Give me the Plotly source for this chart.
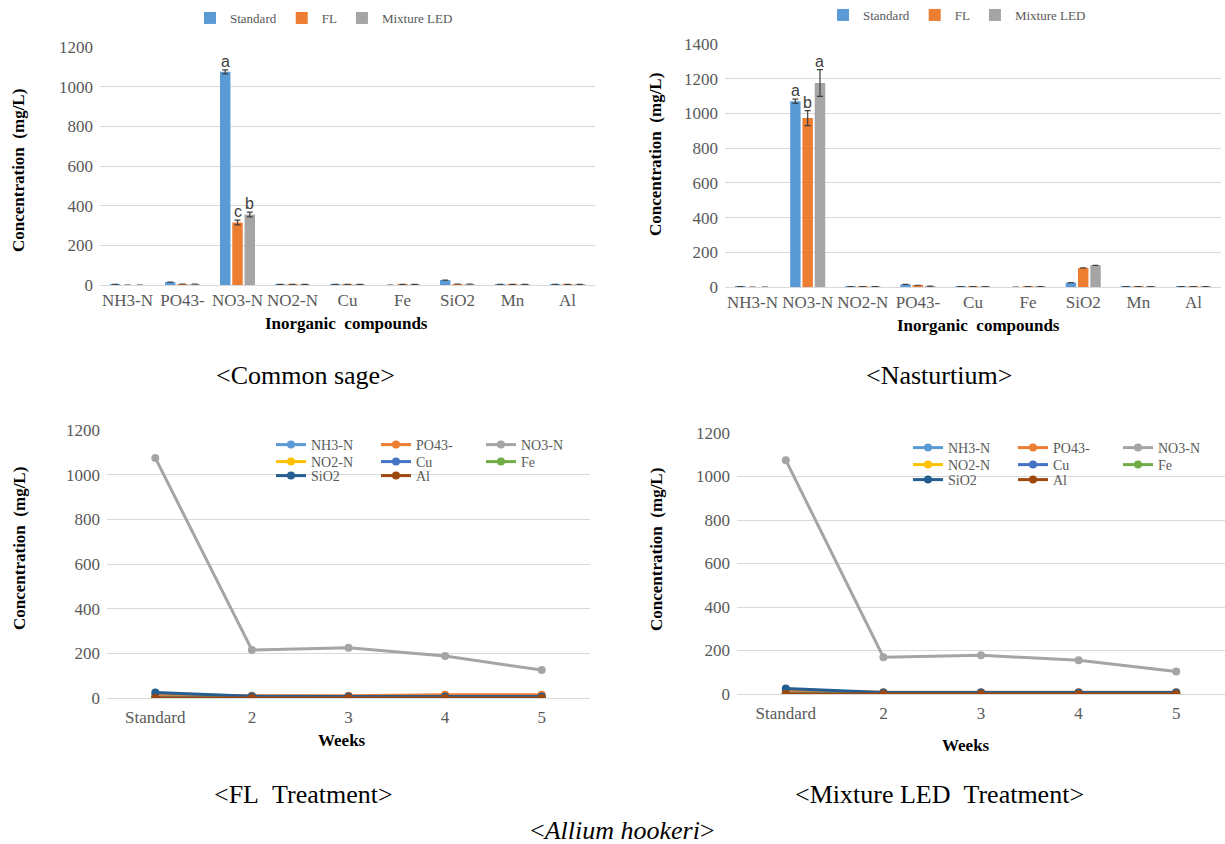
import plotly.graph_objects as go

# ---------------- data ----------------
sage_cats = ["NH3-N", "PO43-", "NO3-N", "NO2-N", "Cu", "Fe", "SiO2", "Mn", "Al"]
sage_standard = [3, 15, 1075, 3, 3, 0, 25, 3, 3]
sage_fl = [0, 5, 315, 3, 3, 3, 5, 3, 3]
sage_led = [0, 5, 355, 3, 3, 3, 5, 3, 3]
sage_err_standard = [0, 0, 10, 0, 0, 0, 0, 0, 0]
sage_err_fl = [0, 0, 12, 0, 0, 0, 0, 0, 0]
sage_err_led = [0, 0, 12, 0, 0, 0, 0, 0, 0]
sage_letters = ["a", "c", "b"]

nast_cats = ["NH3-N", "NO3-N", "NO2-N", "PO43-", "Cu", "Fe", "SiO2", "Mn", "Al"]
nast_standard = [3, 1070, 3, 15, 3, 0, 25, 3, 3]
nast_fl = [0, 973, 3, 10, 3, 3, 110, 3, 3]
nast_led = [0, 1175, 3, 5, 3, 3, 125, 3, 3]
nast_err_standard = [0, 12, 0, 0, 0, 0, 0, 0, 0]
nast_err_fl = [0, 43, 0, 0, 0, 0, 0, 0, 0]
nast_err_led = [0, 77, 0, 0, 0, 0, 0, 0, 0]
nast_letters = ["a", "b", "a"]

weeks = ["Standard", "2", "3", "4", "5"]
fl_series = {
    "NH3-N": [3, 2, 2, 2, 2],
    "PO43-": [15, 10, 10, 15, 15],
    "NO3-N": [1075, 215, 225, 188, 125],
    "NO2-N": [3, 2, 2, 2, 2],
    "Cu": [3, 3, 3, 3, 3],
    "Fe": [0, 3, 3, 3, 3],
    "SiO2": [25, 8, 7, 7, 7],
    "Al": [0, 0, 0, 0, 0],
}
fl_no3_err = [6, 8, 4, 8, 4]
led_series = {
    "NH3-N": [3, 2, 2, 2, 2],
    "PO43-": [15, 8, 8, 8, 8],
    "NO3-N": [1075, 169, 178, 155, 103],
    "NO2-N": [3, 2, 2, 2, 2],
    "Cu": [3, 3, 3, 3, 3],
    "Fe": [0, 3, 3, 3, 3],
    "SiO2": [25, 7, 7, 7, 7],
    "Al": [0, 0, 0, 0, 0],
}

bar_names = ["Standard", "FL", "Mixture LED"]
bar_colors = ["#5B9BD5", "#ED7D31", "#A5A5A5"]
line_colors = {
    "NH3-N": "#5B9BD5", "PO43-": "#ED7D31", "NO3-N": "#A5A5A5", "NO2-N": "#FFC000",
    "Cu": "#4472C4", "Fe": "#70AD47", "SiO2": "#255E91", "Al": "#9E480E",
}

# ---------------- helpers ----------------
W, H = 1225, 844
def px(x):
    return x / W
def py(y):
    return 1 - y / H

SERIF = "Liberation Serif"
TICK_FONT = dict(family=SERIF, size=17, color="#595959")
GRID = "#D9D9D9"

fig = go.Figure()

BARGAP = 0.33
SLOT = (1 - BARGAP) / 3

# ---------------- bar charts ----------------
def add_bars(xa, ya, cats, vals, errs, legend):
    for name, col, v, e in zip(bar_names, bar_colors, vals, errs):
        fig.add_trace(go.Bar(
            x=cats, y=v, name=name, marker=dict(color=col, line=dict(width=0)),
            error_y=dict(type="data", array=e, visible=True, color="#404040",
                         thickness=1.2, width=3),
            xaxis=xa, yaxis=ya, legend=legend, showlegend=True,
        ))

add_bars("x", "y", sage_cats, [sage_standard, sage_fl, sage_led],
         [sage_err_standard, sage_err_fl, sage_err_led], "legend")
add_bars("x2", "y2", nast_cats, [nast_standard, nast_fl, nast_led],
         [nast_err_standard, nast_err_fl, nast_err_led], "legend2")

# significance letters
annotations = []
def add_letters(xref, yref, cats, vals, errs, letters):
    idx = cats.index("NO3-N")
    for k, (v, e, L) in enumerate(zip(vals, errs, letters)):
        annotations.append(dict(
            x=idx + (k - 1) * SLOT, y=v[idx] + e[idx], xref=xref, yref=yref,
            text=L, showarrow=False, yanchor="bottom", yshift=-2,
            font=dict(family="Liberation Sans", size=16, color="#404040")))

add_letters("x", "y", sage_cats, [sage_standard, sage_fl, sage_led],
            [sage_err_standard, sage_err_fl, sage_err_led], sage_letters)
add_letters("x2", "y2", nast_cats, [nast_standard, nast_fl, nast_led],
            [nast_err_standard, nast_err_fl, nast_err_led], nast_letters)

# ---------------- line charts ----------------
row_groups = [["NH3-N", "PO43-", "NO3-N"], ["NO2-N", "Cu", "Fe"], ["SiO2", "Al"]]

def add_lines(xa, ya, series, legends, no3_err=None):
    for name, vals in series.items():
        leg = None
        for r, grp in enumerate(row_groups):
            if name in grp:
                leg = legends[r]
        err = None
        if name == "NO3-N" and no3_err is not None:
            err = dict(type="data", array=no3_err, visible=True, color="#808080",
                       thickness=1.2, width=3)
        fig.add_trace(go.Scatter(
            x=weeks, y=vals, name=name, mode="lines+markers",
            line=dict(color=line_colors[name], width=3),
            marker=dict(color=line_colors[name], size=8),
            error_y=err, xaxis=xa, yaxis=ya, legend=leg, showlegend=True,
        ))

add_lines("x3", "y3", fl_series, ["legend3", "legend4", "legend5"], fl_no3_err)
add_lines("x4", "y4", led_series, ["legend6", "legend7", "legend8"])

# ---------------- axes ----------------
def yaxis(domain, rng, dtick, anchor):
    return dict(domain=domain, range=rng, dtick=dtick, anchor=anchor,
                showgrid=True, gridcolor=GRID, gridwidth=1, zeroline=False,
                showline=False, ticks="", tickfont=TICK_FONT, fixedrange=True,
                ticklabelstandoff=6)

def xaxis(domain, anchor, standoff=0, rng=None):
    d = dict(domain=domain, anchor=anchor, type="category",
             showline=True, linecolor=GRID, linewidth=1, ticks="",
             tickfont=TICK_FONT, showgrid=False, fixedrange=True,
             ticklabelstandoff=standoff)
    if rng is not None:
        d["range"] = rng
    return d

fig.update_layout(
    xaxis=xaxis([px(100), px(595)], "y"),
    yaxis=yaxis([py(285), py(47)], [0, 1200], 200, "x"),
    xaxis2=xaxis([px(725), px(1221)], "y2"),
    yaxis2=yaxis([py(287), py(44)], [0, 1400], 200, "x2"),
    xaxis3=xaxis([px(107), px(590)], "y3", 4, [-0.5, len(weeks) - 0.5]),
    yaxis3=yaxis([py(698), py(430)], [0, 1200], 200, "x3"),
    xaxis4=xaxis([px(737), px(1225)], "y4", 4, [-0.5, len(weeks) - 0.5]),
    yaxis4=yaxis([py(694), py(433)], [0, 1200], 200, "x4"),
)

# ---------------- legends ----------------
top_leg_font = dict(family=SERIF, size=13, color="#595959")
line_leg_font = dict(family=SERIF, size=14, color="#595959")

def top_legend(xc, yt):
    return dict(orientation="h", x=px(xc), y=py(yt), xanchor="center", yanchor="top",
                font=top_leg_font, bgcolor="rgba(0,0,0,0)", itemwidth=30,
                itemclick=False, itemdoubleclick=False)

def row_legend(xl, yt):
    return dict(orientation="h", x=px(xl), y=py(yt), xanchor="left", yanchor="top",
                font=line_leg_font, bgcolor="rgba(0,0,0,0)", itemwidth=30,
                entrywidth=60, entrywidthmode="pixels", tracegroupgap=0,
                itemclick=False, itemdoubleclick=False)

fig.update_layout(
    legend=top_legend(324, 3),
    legend2=top_legend(957, 0),
    legend3=row_legend(271, 429),
    legend4=row_legend(271, 446),
    legend5=row_legend(271, 460),
    legend6=row_legend(908, 432),
    legend7=row_legend(908, 449),
    legend8=row_legend(908, 464),
)

# ---------------- titles & captions ----------------
title_font = dict(family=SERIF, size=17, color="#000000")
NB = "\u00a0"

def txt(x, y, text, font, angle=0):
    annotations.append(dict(x=px(x), y=py(y), xref="paper", yref="paper", text=text,
                            showarrow=False, xanchor="center", yanchor="middle",
                            textangle=angle, font=font))

ytitle = "<b>Concentration" + NB + NB + "(mg/L)</b>"
txt(19, 171, ytitle, title_font, -90)
txt(656, 155, ytitle, title_font, -90)
txt(19, 549, ytitle, title_font, -90)
txt(656, 550, ytitle, title_font, -90)

txt(346, 323, "<b>Inorganic" + NB + NB + "compounds</b>", title_font)
txt(978, 326, "<b>Inorganic" + NB + NB + "compounds</b>", title_font)
txt(342, 740, "<b>Weeks</b>", title_font)
txt(966, 745, "<b>Weeks</b>", title_font)

cap_font = dict(family=SERIF, size=26, color="#000000")
txt(305, 375, "&lt;Common" + NB + "sage&gt;", cap_font)
txt(939, 375, "&lt;Nasturtium&gt;", cap_font)
txt(303, 794, "&lt;FL" + NB + NB + "Treatment&gt;", cap_font)
txt(939, 794, "&lt;Mixture" + NB + "LED" + NB + NB + "Treatment&gt;", cap_font)
txt(622, 830, "&lt;<i>Allium" + NB + "hookeri</i>&gt;", cap_font)

fig.update_layout(
    width=W, height=H, margin=dict(l=0, r=0, t=0, b=0, autoexpand=False),
    paper_bgcolor="white", plot_bgcolor="white",
    barmode="group", bargap=BARGAP, bargroupgap=0.15,
    annotations=annotations, showlegend=True,
)

fig.write_html("out.html")
